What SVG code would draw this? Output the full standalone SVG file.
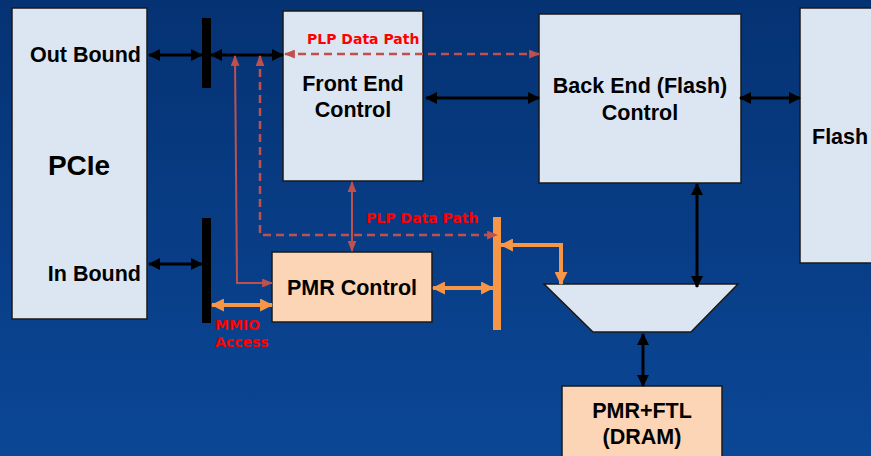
<svg xmlns="http://www.w3.org/2000/svg" width="871" height="456" viewBox="0 0 871 456">
<defs>
<linearGradient id="bg" x1="0" y1="0" x2="0" y2="1">
<stop offset="0" stop-color="#053273"/>
<stop offset="1" stop-color="#0b4796"/>
</linearGradient>
<marker id="ab" viewBox="0 0 12 12" refX="11" refY="6" markerWidth="12" markerHeight="12" markerUnits="userSpaceOnUse" orient="auto-start-reverse"><path d="M0,0 L12,6 L0,12 Z" fill="#000"/></marker>
<marker id="ar" viewBox="0 0 10 8" refX="9" refY="4" markerWidth="11" markerHeight="9" markerUnits="userSpaceOnUse" orient="auto-start-reverse"><path d="M0,0 L10,4 L0,8 Z" fill="#c0504d"/></marker>
<marker id="ao" viewBox="0 0 12 12" refX="11" refY="6" markerWidth="13" markerHeight="13" markerUnits="userSpaceOnUse" orient="auto-start-reverse"><path d="M0,0 L12,6 L0,12 Z" fill="#f79646"/></marker>
</defs>
<style>
.box{fill:#dce6f2;stroke:#1a1a1a;stroke-width:1.5}
.pmr{fill:#fbd5b5;stroke:#1a1a1a;stroke-width:1.5}
.t{font-family:"Liberation Sans",Arial,sans-serif;font-weight:bold;fill:#000;font-size:21.5px}
.big{font-size:28px}
.lbl{font-family:"DejaVu Sans","Liberation Sans",sans-serif;font-weight:bold;fill:#ff0000;font-size:14px}
.blk{stroke:#000;stroke-width:3;fill:none;marker-start:url(#ab);marker-end:url(#ab)}
.red{stroke:#c0504d;stroke-width:2;fill:none}
.dash{stroke-width:2.5;stroke-dasharray:8,5}
.org{stroke:#f79646;stroke-width:4;fill:none}
</style>
<rect x="0" y="0" width="871" height="456" fill="url(#bg)"/>

<g id="pcie">
<rect class="box" x="12" y="8" width="135" height="311"/>
<text class="t" x="141" y="62" text-anchor="end">Out Bound</text>
<text class="t big" x="79" y="175" text-anchor="middle">PCIe</text>
<text class="t" x="141" y="281" text-anchor="end">In Bound</text>
</g>
<g id="bus-out"><rect x="202" y="18" width="9" height="70" fill="#000"/></g>
<g id="bus-in"><rect x="202" y="218" width="9" height="105" fill="#000"/></g>
<g id="front-end">
<rect class="box" x="283" y="11" width="140" height="170"/>
<text class="t" x="353" y="91" text-anchor="middle">Front End</text>
<text class="t" x="353" y="117" text-anchor="middle">Control</text>
</g>
<g id="back-end">
<rect class="box" x="539" y="14" width="202" height="169"/>
<text class="t" x="640" y="93" text-anchor="middle">Back End (Flash)</text>
<text class="t" x="640" y="120" text-anchor="middle">Control</text>
</g>
<g id="flash">
<rect class="box" x="800" y="8" width="80" height="255"/>
<text class="t" x="812" y="144">Flash</text>
</g>
<g id="pmr-control">
<rect class="pmr" x="272" y="252" width="160" height="70"/>
<text class="t" x="352" y="295" text-anchor="middle">PMR Control</text>
</g>
<g id="bus-orange"><rect x="493" y="217" width="8" height="113" fill="#f79646"/></g>
<g id="mux"><path d="M544,284 L738,284 L691,332 L593,332 Z" fill="#dce6f2" stroke="#1a1a1a" stroke-width="1.5"/></g>
<g id="pmr-ftl">
<rect class="pmr" x="562" y="386" width="160" height="80"/>
<text class="t" x="642" y="418" text-anchor="middle">PMR+FTL</text>
<text class="t" x="642" y="444" text-anchor="middle">(DRAM)</text>
</g>

<g id="connectors">
<line class="blk" x1="149" y1="55" x2="202" y2="55"/>
<line class="blk" x1="211" y1="55" x2="283" y2="55"/>
<line class="blk" x1="149" y1="264" x2="202" y2="264"/>
<line class="blk" x1="426" y1="98" x2="539" y2="98"/>
<line class="blk" x1="740" y1="98" x2="800" y2="98"/>
<line class="blk" x1="697" y1="184" x2="697" y2="287"/>
<line class="blk" x1="643" y1="334" x2="643" y2="386"/>

<line class="red dash" x1="285" y1="54" x2="539" y2="54" marker-start="url(#ar)" marker-end="url(#ar)"/>
<polyline class="red" points="235,56 237,283 272,283" marker-start="url(#ar)" marker-end="url(#ar)"/>
<polyline class="red dash" points="260,56 260,235 497,235" marker-start="url(#ar)" marker-end="url(#ar)"/>
<line class="red" x1="352" y1="182" x2="352" y2="251" marker-start="url(#ar)" marker-end="url(#ar)"/>

<line class="org" x1="212" y1="305" x2="272" y2="305" marker-start="url(#ao)" marker-end="url(#ao)"/>
<line class="org" x1="433" y1="288" x2="493" y2="288" marker-start="url(#ao)" marker-end="url(#ao)"/>
<polyline class="org" points="501,245 561,245 561,284" marker-start="url(#ao)" marker-end="url(#ao)"/>

<text class="lbl" x="307" y="44">PLP Data Path</text>
<text class="lbl" x="366" y="223">PLP Data Path</text>
<text class="lbl" x="215" y="330">MMIO</text>
<text class="lbl" x="215" y="347">Access</text>
</g>
</svg>
